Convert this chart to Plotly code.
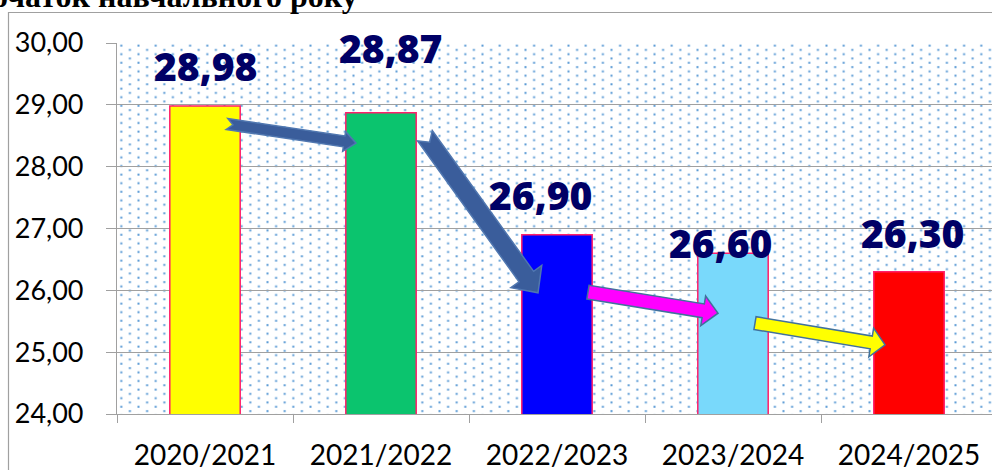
import base64
import math
import plotly.graph_objects as go

# ---- data ----
categories = ["2020/2021", "2021/2022", "2022/2023", "2023/2024", "2024/2025"]
values = [28.98, 28.87, 26.90, 26.60, 26.30]
value_labels = ["28,98", "28,87", "26,90", "26,60", "26,30"]
y_ticks = [24, 25, 26, 27, 28, 29, 30]
y_tick_labels = ["24,00", "25,00", "26,00", "27,00", "28,00", "29,00", "30,00"]
title_text = "на початок навчального року"

# ---- styles ----
bar_colors = ["#FFFF00", "#0BC46E", "#0000FF", "#79D9FB", "#FF0000"]
label_xshift = [0, 9, -17, -13, 3]
label_yshift = [41, 65, 40, 11, 39]

# arrows: (x_from, y_from, x_to, y_to) in category-index / value units
arrow_from_to = [
    (0.125, 28.69, 0.858, 28.38),
    (1.25, 28.50, 1.892, 25.96),
    (2.176, 25.97, 2.915, 25.63),
    (3.125, 25.47, 3.864, 25.12),
]
arrow_style = [
    dict(w=11, hw=20, hl=12, notch=6, fill="#3A5D9B", line="#5077B0"),
    dict(w=18, hw=38, hl=20, notch=8, fill="#3A5D9B", line="#5077B0"),
    dict(w=14, hw=30, hl=15, notch=0, fill="#FF00FF", line="#41719C"),
    dict(w=13, hw=29, hl=14, notch=0, fill="#FFFF00", line="#41719C"),
]

# ---- layout geometry ----
FIG_W, FIG_H = 992, 470
M_L, M_R, M_T, M_B = 117, 0, 43, 56
PW = FIG_W - M_L - M_R
PH = FIG_H - M_T - M_B
X_MIN = -0.5
X_MAX = 4.5 - 5 / 176
Y_MIN, Y_MAX = 24, 30


def to_px(x, y):
    px = M_L + (x - X_MIN) / (X_MAX - X_MIN) * PW
    py = M_T + (Y_MAX - y) / (Y_MAX - Y_MIN) * PH
    return px, py


def to_data(px, py):
    x = X_MIN + (px - M_L) / PW * (X_MAX - X_MIN)
    y = Y_MAX - (py - M_T) / PH * (Y_MAX - Y_MIN)
    return x, y


def arrow_path(x0, y0, x1, y1, w, hw, hl, notch):
    ax, ay = to_px(x0, y0)
    bx, by = to_px(x1, y1)
    L = math.hypot(bx - ax, by - ay)
    ux, uy = (bx - ax) / L, (by - ay) / L
    nx, ny = -uy, ux
    local = [
        (0, w / 2), (L - hl, w / 2), (L - hl, hw / 2), (L, 0),
        (L - hl, -hw / 2), (L - hl, -w / 2), (0, -w / 2), (notch, 0),
    ]
    pts = []
    for s, t in local:
        px = ax + ux * s + nx * t
        py = ay + uy * s + ny * t
        pts.append(to_data(px, py))
    return "M " + " L ".join(f"{x:.5f},{y:.5f}" for x, y in pts) + " Z"


# dotted background pattern
svg = (
    f"<svg xmlns='http://www.w3.org/2000/svg' width='{PW}' height='{PH}'>"
    "<defs><pattern id='p' width='17.2' height='8.6' patternUnits='userSpaceOnUse'>"
    "<rect x='3.3' y='1.6' width='2' height='2' fill='#5B9BD5'/>"
    "<rect x='11.9' y='5.9' width='2' height='2' fill='#5B9BD5'/>"
    "</pattern></defs>"
    "<rect width='100%' height='100%' fill='white'/>"
    "<rect width='100%' height='100%' fill='url(#p)'/>"
    "</svg>"
)
bg_src = "data:image/svg+xml;base64," + base64.b64encode(svg.encode()).decode()

fig = go.Figure()
fig.add_trace(go.Bar(
    x=categories,
    y=values,
    width=0.4,
    marker=dict(color=bar_colors, line=dict(color="#FF1F6B", width=1.5)),
    hoverinfo="skip",
))

annotations = []
for i, (v, lab) in enumerate(zip(values, value_labels)):
    annotations.append(dict(
        x=i, y=v, xref="x", yref="y", text=lab, showarrow=False,
        xshift=label_xshift[i], yshift=label_yshift[i],
        xanchor="center", yanchor="middle",
        font=dict(family="Open Sans", size=39, color="#000066", weight=800),
    ))

# cropped title (only lower half visible)
annotations.append(dict(
    x=(360 - M_L) / PW, y=(M_T + PH - 16.5) / PH, xref="paper", yref="paper",
    xanchor="right", yanchor="bottom", showarrow=False,
    text=f"<b>{title_text}</b>",
    font=dict(family="Liberation Serif", size=32, color="#000000"),
))

shapes = []
for (x0, y0, x1, y1), st in zip(arrow_from_to, arrow_style):
    shapes.append(dict(
        type="path", xref="x", yref="y",
        path=arrow_path(x0, y0, x1, y1, st["w"], st["hw"], st["hl"], st["notch"]),
        fillcolor=st["fill"], line=dict(color=st["line"], width=1.5),
        layer="above",
    ))

# chart-area frame (cropped)
shapes.append(dict(
    type="rect", xref="paper", yref="paper",
    x0=(8.5 - M_L) / PW, x1=1.2, y0=-0.5, y1=(M_T + PH - 12.5) / PH,
    line=dict(color="#A0A0A0", width=1.2), fillcolor="rgba(0,0,0,0)", layer="above",
))

fig.update_layout(
    width=FIG_W, height=FIG_H,
    margin=dict(l=M_L, r=M_R, t=M_T, b=M_B, pad=0),
    paper_bgcolor="white",
    plot_bgcolor="rgba(0,0,0,0)",
    showlegend=False,
    bargap=0.6,
    annotations=annotations,
    shapes=shapes,
    images=[dict(
        source=bg_src, xref="paper", yref="paper", x=0, y=1,
        sizex=1, sizey=1, xanchor="left", yanchor="top",
        sizing="stretch", layer="below",
    )],
    xaxis=dict(
        type="category", range=[X_MIN, X_MAX], automargin=False,
        tickson="boundaries", ticks="outside", ticklen=8, tickcolor="#A0A0A0", tickwidth=1.2,
        showline=True, linecolor="#A0A0A0", linewidth=1.2,
        showgrid=False,
        tickfont=dict(family="Lato", size=28, color="#000000"),
        ticklabelstandoff=16,
    ),
    yaxis=dict(
        range=[Y_MIN, Y_MAX], tickvals=y_ticks, ticktext=y_tick_labels, automargin=False,
        ticks="outside", ticklen=10, tickcolor="#A0A0A0", tickwidth=1.2,
        showline=True, linecolor="#A0A0A0", linewidth=1.2,
        showgrid=True, gridcolor="#A0A0A0", gridwidth=1.3,
        zeroline=False,
        tickfont=dict(family="Lato", size=27, color="#000000"),
        ticklabelstandoff=17,
    ),
)

fig.write_html(
    "out.html",
    config={"displayModeBar": False},
    post_script="document.body.style.margin='0';document.body.style.overflow='hidden';",
)
